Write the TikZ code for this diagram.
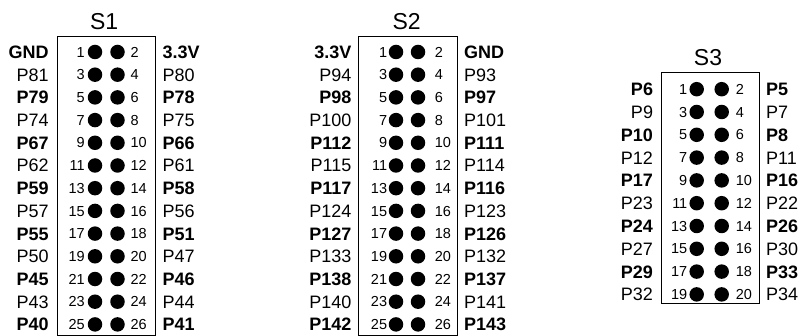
\documentclass[tikz,border=0pt]{standalone}
\usepackage{fontspec}
\setmainfont{Liberation Sans}
\begin{document}
\begin{tikzpicture}[x=1pt,y=-1pt,
  pinlabel/.style={inner sep=0pt, font=\fontsize{18}{20}\selectfont, text height=12.9pt, text depth=0pt},
  pinnum/.style={inner sep=0pt, font=\fontsize{14.5}{16}\selectfont, text height=10.4pt, text depth=0pt},
  pindot/.style={circle, fill=black, inner sep=0pt, minimum size=14.5pt},
  headerbox/.style={draw=black, line width=1.2pt, inner sep=0pt, anchor=north west},
  headertitle/.style={inner sep=0pt, font=\fontsize{23}{26}\selectfont, text height=16.5pt, text depth=0pt}]
\useasboundingbox (0,0) rectangle (799,336);

% ---------- header S1 ----------
\node[headerbox, minimum width=98pt, minimum height=299pt] (S1box) at (57,36) {};
\node[headertitle] (S1) at (104.2,21.7) {S1};
\foreach \l/\r [count=\i] in {GND/3.3V, P81/P80, P79/P78, P74/P75, P67/P66, P62/P61,
    P59/P58, P57/P56, P55/P51, P50/P47, P45/P46, P43/P44, P40/P41} {
  \pgfmathsetmacro\yy{52+22.7*(\i-1)}
  \pgfmathtruncatemacro\a{2*\i-1}
  \pgfmathtruncatemacro\b{2*\i}
  \node[pindot] (S1d\a) at (95,\yy) {};
  \node[pindot] (S1d\b) at (117.5,\yy) {};
  \node[pinnum, anchor=east] (S1n\a) at (85,\yy) {\a};
  \node[pinnum, anchor=west] (S1n\b) at (130.3,\yy) {\b};
  \node[pinlabel, anchor=east] (S1l\a) at (48.8,\yy) {\ifodd\i\relax\bfseries\fi\l};
  \node[pinlabel, anchor=west] (S1l\b) at (162.5,\yy) {\ifodd\i\relax\bfseries\fi\r};
}

% ---------- header S2 ----------
\node[headerbox, minimum width=98.5pt, minimum height=299pt] (S2box) at (358.2,36) {};
\node[headertitle] (S2) at (406.7,21.7) {S2};
\foreach \l/\r [count=\i] in {3.3V/GND, P94/P93, P98/P97, P100/P101, P112/P111, P115/P114,
    P117/P116, P124/P123, P127/P126, P133/P132, P138/P137, P140/P141, P142/P143} {
  \pgfmathsetmacro\yy{52+22.7*(\i-1)}
  \pgfmathtruncatemacro\a{2*\i-1}
  \pgfmathtruncatemacro\b{2*\i}
  \node[pindot] (S2d\a) at (396,\yy) {};
  \node[pindot] (S2d\b) at (418,\yy) {};
  \node[pinnum, anchor=east] (S2n\a) at (387.3,\yy) {\a};
  \node[pinnum, anchor=west] (S2n\b) at (434.6,\yy) {\b};
  \node[pinlabel, anchor=east] (S2l\a) at (351.5,\yy) {\ifodd\i\relax\bfseries\fi\l};
  \node[pinlabel, anchor=west] (S2l\b) at (464,\yy) {\ifodd\i\relax\bfseries\fi\r};
}

% ---------- header S3 ----------
\node[headerbox, minimum width=98.5pt, minimum height=231pt] (S3box) at (660.5,72) {};
\node[headertitle] (S3) at (708,57.5) {S3};
\foreach \l/\r [count=\i] in {P6/P5, P9/P7, P10/P8, P12/P11, P17/P16, P23/P22,
    P24/P26, P27/P30, P29/P33, P32/P34} {
  \pgfmathsetmacro\yy{89.2+22.8*(\i-1)}
  \pgfmathtruncatemacro\a{2*\i-1}
  \pgfmathtruncatemacro\b{2*\i}
  \node[pindot] (S3d\a) at (696.7,\yy) {};
  \node[pindot] (S3d\b) at (721.7,\yy) {};
  \node[pinnum, anchor=east] (S3n\a) at (687.5,\yy) {\a};
  \node[pinnum, anchor=west] (S3n\b) at (735.6,\yy) {\b};
  \node[pinlabel, anchor=east] (S3l\a) at (653.2,\yy) {\ifodd\i\relax\bfseries\fi\l};
  \node[pinlabel, anchor=west] (S3l\b) at (766,\yy) {\ifodd\i\relax\bfseries\fi\r};
}
\end{tikzpicture}
\end{document}
